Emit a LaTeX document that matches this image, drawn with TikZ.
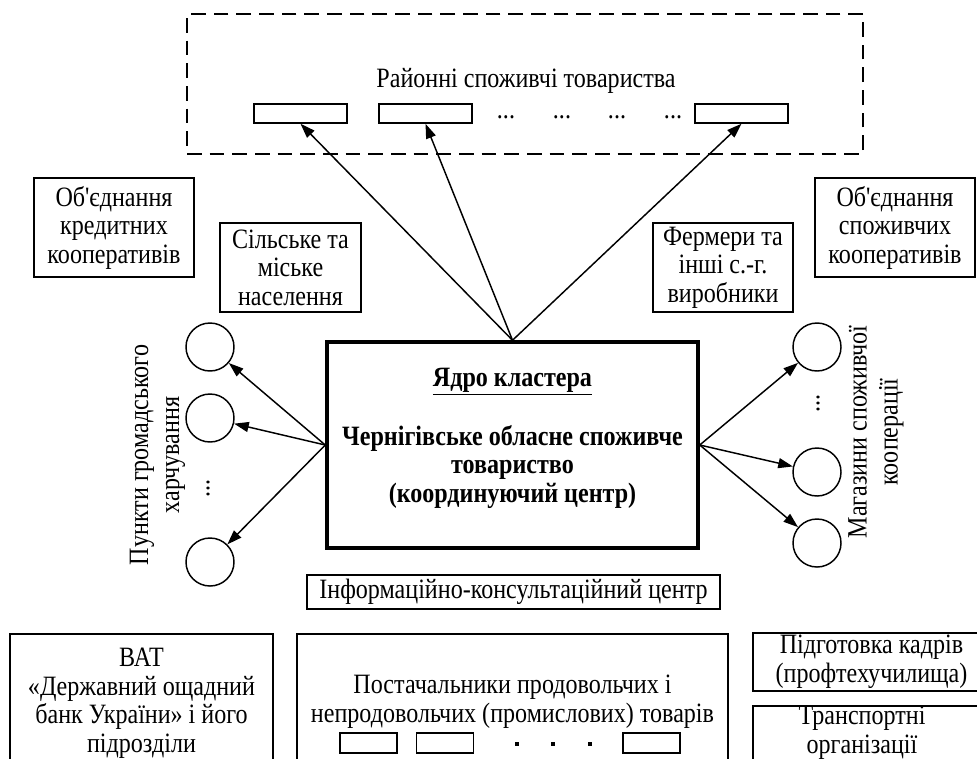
\documentclass[tikz,border=0pt]{standalone}
\usepackage{fontspec}
\setmainfont{Liberation Serif}[FakeStretch=0.86, Ligatures=TeXOff]
\usetikzlibrary{arrows.meta}
\newcommand\mainfs{\fontsize{21}{21.4}\selectfont}
\tikzset{
  box/.style={draw, line width=1.1pt, inner sep=1pt, align=center, font=\mainfs},
  smallbox/.style={draw, line width=1.1pt, inner sep=0pt},
  corebox/.style={draw, line width=2.6pt, inner sep=0pt, minimum width=278.25pt, minimum height=154.5pt},
  dashbox/.style={draw, line width=1.1pt, dash pattern=on 11pt off 6pt, inner sep=0pt, minimum width=507pt, minimum height=105pt},
  circ/.style={draw, circle, line width=1.1pt, minimum size=36pt, inner sep=0pt},
  txt/.style={inner sep=0pt, align=center, font=\mainfs},
  rottxt/.style={inner sep=0pt, align=center, rotate=90, font=\fontsize{21}{23.3}\selectfont},
  dotmark/.style={fill, rectangle, minimum size=2.6pt, inner sep=0pt},
  arr/.style={line width=1.1pt, -{Triangle[length=11pt,width=7.5pt]}}
}
\begin{document}
\begin{tikzpicture}[x=0.75pt,y=-0.75pt]
\useasboundingbox (0,0) rectangle (977,758);
\fill[white] (0,0) rectangle (977,758);
\clip (0,0) rectangle (977,758);

% top dashed group
\node[dashbox] (rst) at (525,84) {};
\node[txt] (rsttxt) at (526,81) {Районні споживчі товариства};
\node[smallbox, minimum width=69.75pt, minimum height=14.25pt] (r1) at (300.5,113.5) {};
\node[smallbox, minimum width=69.75pt, minimum height=14.25pt] (r2) at (425.5,113.5) {};
\node[smallbox, minimum width=69.75pt, minimum height=14.25pt] (r3) at (741.5,113.5) {};
\node[txt] (d1) at (506,117) {...};
\node[txt] (d2) at (562,117) {...};
\node[txt] (d3) at (617,117) {...};
\node[txt] (d4) at (673,117) {...};

% side boxes
\node[box, minimum width=120pt, minimum height=74.25pt] (kred) at (114,227.5) {Об'єднання\\кредитних\\кооперативів};
\node[box, minimum width=105.75pt, minimum height=66.75pt] (sil) at (290.5,267.5) {Сільське та\\міське\\населення};
\node[box, minimum width=105pt, minimum height=66.75pt] (ferm) at (723,267.5) {Фермери та\\інші с.-г.\\виробники};
\node[box, minimum width=120pt, minimum height=74.25pt] (spoz) at (895,227.5) {Об'єднання\\споживчих\\кооперативів};

% core
\node[corebox] (core) at (512.5,445) {};
\node[txt, font=\mainfs\bfseries] (coretxt) at (512.5,438.5) {\underline{Ядро кластера}\\[21.4pt]Чернігівське обласне споживче\\товариство\\(координуючий центр)};

% left circles
\node[circ] (l1) at (210,347) {};
\node[circ] (l2) at (210,418) {};
\node[circ] (l3) at (210,562) {};
\node[txt, rotate=90] (ld) at (208,488) {...};
\node[rottxt] (ltxt) at (157.5,455) {Пункти громадського\\харчування};

% right circles
\node[circ] (c1) at (817,347) {};
\node[circ] (c2) at (817,472) {};
\node[circ] (c3) at (817,543) {};
\node[txt, rotate=90] (rd) at (818,403) {...};
\node[rottxt] (rtxt) at (876,432) {Магазини споживчої\\кооперації};

% arrows
\draw[arr] (core.north) -- (r1.south);
\draw[arr] (core.north) -- (r2.south);
\draw[arr] (core.north) -- (r3.south);
\draw[arr] (core.west) -- (l1);
\draw[arr] (core.west) -- (l2);
\draw[arr] (core.west) -- (l3);
\draw[arr] (core.east) -- (c1);
\draw[arr] (core.east) -- (c2);
\draw[arr] (core.east) -- (c3);

% info
\node[box, minimum width=309.75pt, minimum height=25.5pt] (info) at (513.5,592) {Інформаційно-консультаційний центр};

% bottom
\node[box, minimum width=197.25pt, minimum height=103.5pt] (vat) at (141.5,703) {ВАТ\\«Державний ощадний\\банк України» і його\\підрозділи};
\node[box, minimum width=323.25pt, minimum height=103.5pt] (post) at (512.5,703) {};
\node[txt] (posttxt) at (512.5,701.5) {Постачальники продовольчих і\\непродовольчих (промислових) товарів};
\node[smallbox, minimum width=42.75pt, minimum height=15pt] (p1) at (368.5,743) {};
\node[smallbox, minimum width=42.75pt, minimum height=15pt] (p2) at (445,743) {};
\node[smallbox, minimum width=42.75pt, minimum height=15pt] (p3) at (651.5,743) {};
\node[dotmark] (pd1) at (517,744) {};
\node[dotmark] (pd2) at (553,744) {};
\node[dotmark] (pd3) at (590,744) {};
\node[box, minimum width=177.75pt, minimum height=43.5pt] (kadr) at (871.5,662) {Підготовка кадрів\\(профтехучилища)};
\node[box, minimum width=177.75pt, minimum height=51.75pt] (trans) at (871.5,740.5) {};
\node[txt] (transtxt) at (862,732.5) {Транспортні\\організації};
\end{tikzpicture}
\end{document}
